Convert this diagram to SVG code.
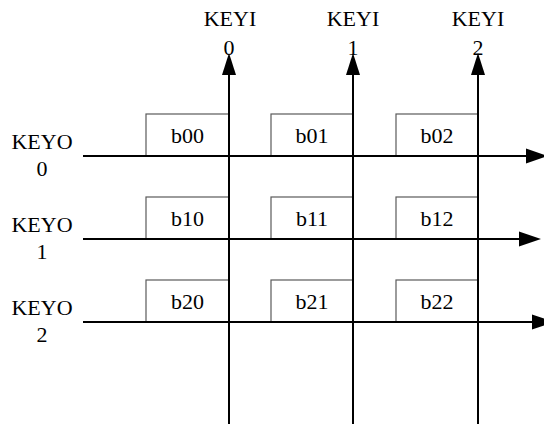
<svg xmlns="http://www.w3.org/2000/svg" width="544" height="424" viewBox="0 0 544 424">
  <style>
    .lbl { font-family: "Liberation Serif", "Times New Roman", serif; font-size: 22px; fill: #000; text-anchor: middle; }
    .box { fill: #fff; stroke: #5a5a5a; stroke-width: 1.2; }
    .wire { stroke: #000; stroke-width: 2; fill: none; }
    .head { fill: #000; }
  </style>
  <rect width="544" height="424" fill="#fff"/>

  <!-- key cells -->
  <g id="b00"><rect class="box" x="146" y="114" width="83" height="42"/><text class="lbl" x="187.5" y="143">b00</text></g>
  <g id="b01"><rect class="box" x="271" y="114" width="82" height="42"/><text class="lbl" x="312" y="143">b01</text></g>
  <g id="b02"><rect class="box" x="396" y="114" width="82" height="42"/><text class="lbl" x="437" y="143">b02</text></g>
  <g id="b10"><rect class="box" x="146" y="197" width="83" height="42"/><text class="lbl" x="187.5" y="226">b10</text></g>
  <g id="b11"><rect class="box" x="271" y="197" width="82" height="42"/><text class="lbl" x="312" y="226">b11</text></g>
  <g id="b12"><rect class="box" x="396" y="197" width="82" height="42"/><text class="lbl" x="437" y="226">b12</text></g>
  <g id="b20"><rect class="box" x="146" y="280" width="83" height="42"/><text class="lbl" x="187.5" y="309">b20</text></g>
  <g id="b21"><rect class="box" x="271" y="280" width="82" height="42"/><text class="lbl" x="312" y="309">b21</text></g>
  <g id="b22"><rect class="box" x="396" y="280" width="82" height="42"/><text class="lbl" x="437" y="309">b22</text></g>

  <!-- row and column lines -->
  <g id="connectors">
    <line class="wire" x1="83" y1="156" x2="528" y2="156"/>
    <polygon class="head" points="526,148.5 548,156 526,163.5"/>
    <line class="wire" x1="83" y1="239" x2="521" y2="239"/>
    <polygon class="head" points="519,231.5 541,239 519,246.5"/>
    <line class="wire" x1="83" y1="322" x2="534" y2="322"/>
    <polygon class="head" points="532,314.5 554,322 532,329.5"/>

    <line class="wire" x1="229" y1="424" x2="229" y2="72"/>
    <polygon class="head" points="222,75 229,53 236,75"/>
    <line class="wire" x1="353" y1="424" x2="353" y2="72"/>
    <polygon class="head" points="346,75 353,53 360,75"/>
    <line class="wire" x1="478" y1="424" x2="478" y2="72"/>
    <polygon class="head" points="471,75 478,53 485,75"/>
  </g>

  <!-- row drive labels -->
  <g id="keyo0"><text class="lbl" x="42" y="149">KEYO</text><text class="lbl" x="42" y="176">0</text></g>
  <g id="keyo1"><text class="lbl" x="42" y="232">KEYO</text><text class="lbl" x="42" y="259">1</text></g>
  <g id="keyo2"><text class="lbl" x="42" y="315">KEYO</text><text class="lbl" x="42" y="342">2</text></g>

  <!-- column sense labels -->
  <g id="keyi0"><text class="lbl" x="230" y="26">KEYI</text><text class="lbl" x="229" y="55">0</text></g>
  <g id="keyi1"><text class="lbl" x="353" y="26">KEYI</text><text class="lbl" x="353" y="55">1</text></g>
  <g id="keyi2"><text class="lbl" x="478" y="26">KEYI</text><text class="lbl" x="478" y="55">2</text></g>
</svg>
